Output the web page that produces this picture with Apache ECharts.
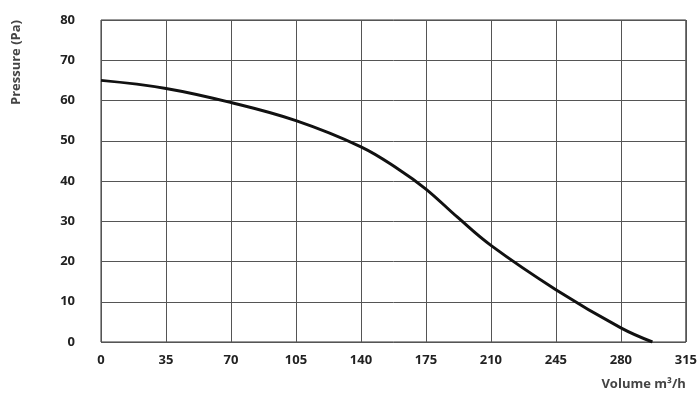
<!DOCTYPE html>
<html>
<head>
<meta charset="utf-8">
<script src="https://cdn.jsdelivr.net/npm/echarts@6/dist/echarts.min.js"></script>
<style>html,body{margin:0;padding:0;background:#fff}#c{width:700px;height:409px}</style>
</head>
<body>
<div id="c"></div>
<script>
// fan curve: volume (m3/h) vs pressure (Pa)
const volume = [0, 35, 70, 105, 140, 160, 175, 192, 210, 245, 280, 297];
const pressure = [65, 63, 59.5, 55, 48.5, 43, 38, 31, 24, 13, 3.5, 0];

const chart = echarts.init(document.getElementById('c'));
const axisText = { color: '#222', fontFamily: 'Open Sans', fontSize: 13, fontWeight: 'bold' };

chart.setOption({
  animation: false,
  grid: { left: 101, right: 12, top: 20, bottom: 67, show: true, borderColor: '#333', borderWidth: 1 },
  xAxis: {
    type: 'value',
    min: 0,
    max: 315,
    interval: 35,
    name: 'Volume m³/h',
    nameLocation: 'end',
    nameGap: 0,
    nameTextStyle: { ...axisText, color: '#444', align: 'right', verticalAlign: 'top', padding: [36, 0, 0, 0] },
    axisLine: { show: false },
    axisTick: { show: false },
    axisLabel: { ...axisText, margin: 12 },
    splitLine: { lineStyle: { color: '#555', width: 1 } },
  },
  yAxis: {
    type: 'value',
    min: 0,
    max: 80,
    interval: 10,
    name: 'Pressure (Pa)',
    nameLocation: 'end',
    nameRotate: 90,
    nameGap: 0,
    nameTextStyle: { ...axisText, color: '#444', align: 'right', verticalAlign: 'bottom', padding: [0, 0, 78, 0] },
    axisLine: { show: false },
    axisTick: { show: false },
    axisLabel: { ...axisText, margin: 26 },
    splitLine: { lineStyle: { color: '#555', width: 1 } },
  },
  series: [{
    type: 'line',
    smooth: 0.4,
    symbol: 'none',
    data: volume.map((v, i) => [v, pressure[i]]),
    lineStyle: { color: '#111', width: 3 },
  }],
});
</script>
</body>
</html>
